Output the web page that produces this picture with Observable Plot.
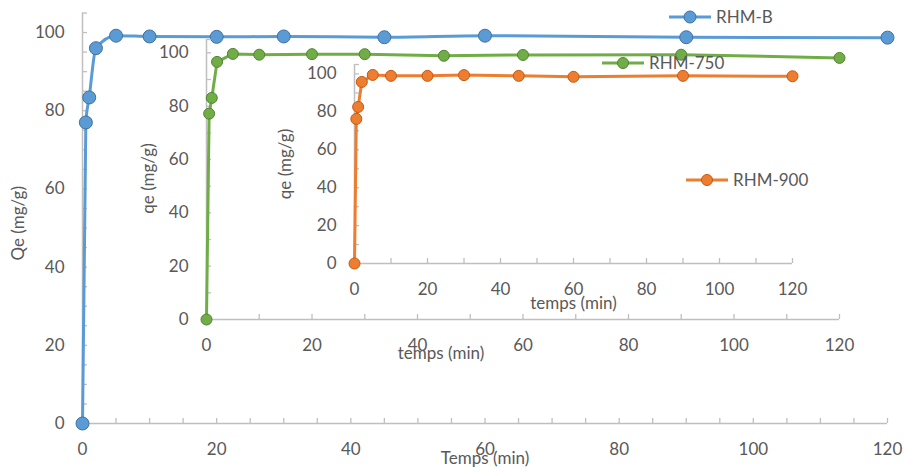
<!DOCTYPE html>
<html>
<head>
<meta charset="utf-8">
<script src="https://cdn.jsdelivr.net/npm/d3@7"></script>
<script src="https://cdn.jsdelivr.net/npm/@observablehq/plot@0.6"></script>
<style>
  html, body { margin: 0; padding: 0; background: #ffffff; }
  #chart { position: relative; width: 904px; height: 468px; overflow: hidden; font-family: Lato, "Open Sans", sans-serif; }
  #chart svg.plt { position: absolute; left: 0; top: 0; }
  .legend { position: absolute; display: flex; align-items: center; height: 20px; font-family: Lato, sans-serif; font-size: 17px; color: #595959; }
  .legend span { margin-left: 5px; line-height: 20px; }
</style>
</head>
<body>
<div id="chart"></div>
<script>
// ---- data ----
const times = [0, 0.5, 1, 2, 5, 10, 20, 30, 45, 60, 90, 120];
const qeB   = [0, 77.0, 83.4, 96.0, 99.2, 99.0, 98.9, 99.0, 98.8, 99.2, 98.8, 98.7];
const qe750 = [0, 77.2, 83.1, 96.6, 99.6, 99.3, 99.5, 99.5, 98.9, 99.2, 99.3, 98.1];
const qe900 = [0, 76.3, 82.6, 95.8, 99.5, 99.0, 99.0, 99.4, 99.0, 98.5, 99.0, 98.8];
const seriesNames = ["RHM-B", "RHM-750", "RHM-900"];
const xTickLabels = [0, 20, 40, 60, 80, 100, 120];
const yTickLabels = [0, 20, 40, 60, 80, 100];
const xMinorMain = d3.range(0, 121, 5);
const yMinorMain = d3.range(0, 106, 5);
const xMinorInset = d3.range(0, 121, 10);
const yMinorInset = d3.range(0, 101, 10).concat([105]);
const xDomain = [0, 120];
const yDomain = [0, 105];

const AXIS = "#BFBFBF";
const TEXT = "#595959";
const FONT = "Lato, 'Open Sans', sans-serif";

function makePlot(cfg) {
  const data = times.map((t, i) => ({t, q: cfg.values[i]}));
  const svg = Plot.plot({
    width: 904,
    height: 468,
    marginLeft: cfg.m[0], marginRight: cfg.m[1], marginTop: cfg.m[2], marginBottom: cfg.m[3],
    style: {background: "transparent", color: TEXT, fontFamily: FONT, fontSize: "17px", overflow: "visible"},
    x: {domain: xDomain, label: null},
    y: {domain: yDomain, label: null},
    marks: [
      Plot.ruleY([0], {stroke: AXIS, strokeWidth: 1.5}),
      Plot.ruleX([0], {stroke: AXIS, strokeWidth: 1.5}),
      Plot.axisX({ticks: cfg.xMinor, tickSize: 5, dy: -5, tickFormat: () => "", stroke: AXIS, strokeWidth: 1.3, label: null}),
      Plot.axisY({ticks: cfg.yMinor, tickSize: 5, dx: 5, tickFormat: () => "", stroke: AXIS, strokeWidth: 1.3, label: null}),
      Plot.axisX({ticks: xTickLabels, tickSize: 0, tickPadding: 19, fontSize: 17, fill: TEXT, label: null}),
      Plot.axisY({ticks: yTickLabels, tickSize: 0, tickPadding: 18, fontSize: 17, fill: TEXT, label: null}),
      Plot.text([cfg.yTitle], {text: d => d, frameAnchor: "left", rotate: -90, dx: cfg.yT[0], dy: cfg.yT[1], textAnchor: "middle", lineAnchor: "middle", fontSize: 17, fill: TEXT}),
      Plot.text([cfg.xTitle], {text: d => d, frameAnchor: "bottom", dx: cfg.xT[0], dy: cfg.xT[1], textAnchor: "middle", lineAnchor: "middle", fontSize: 17, fill: TEXT}),
      Plot.line(data, {x: "t", y: "q", stroke: cfg.color, strokeWidth: 3, curve: cfg.curve}),
      Plot.dot(data, {x: "t", y: "q", r: cfg.r, fill: cfg.color, stroke: cfg.edge, strokeWidth: 1})
    ]
  });
  svg.classList.add("plt");
  return svg;
}

const chart = document.getElementById("chart");
const cfgs = [
  {values: qeB, color: "#5B9BD5", edge: "#41719C", r: 6.5, curve: "monotone-x",
   m: [82, 17, 12.5, 45], xMinor: xMinorMain, yMinor: yMinorMain,
   yTitle: "Qe (mg/g)", yT: [-64, 5], xTitle: "Temps (min)", xT: [0, 35],
   legend: {left: 669, top: 7, r: 6}},
  {values: qe750, color: "#70AD47", edge: "#548235", r: 5.5, curve: "linear",
   m: [206, 65, 39, 149], xMinor: xMinorInset, yMinor: yMinorInset,
   yTitle: "qe (mg/g)", yT: [-58, -1], xTitle: "temps (min)", xT: [-82, 34],
   legend: {left: 602, top: 53, r: 5.5}},
  {values: qe900, color: "#ED7D31", edge: "#C55A11", r: 5.5, curve: "linear",
   m: [354, 112, 64, 205], xMinor: xMinorInset, yMinor: yMinorInset,
   yTitle: "qe (mg/g)", yT: [-69, 0], xTitle: "temps (min)", xT: [0, 40],
   legend: {left: 686, top: 170, r: 5.5}}
];

cfgs.forEach((cfg, i) => {
  chart.appendChild(makePlot(cfg));
  const lg = document.createElement("div");
  lg.className = "legend";
  lg.style.left = cfg.legend.left + "px";
  lg.style.top = cfg.legend.top + "px";
  lg.innerHTML = `<svg width="42" height="20"><line x1="0" y1="10" x2="42" y2="10" stroke="${cfg.color}" stroke-width="3"/><circle cx="21" cy="10" r="${cfg.legend.r}" fill="${cfg.color}" stroke="${cfg.edge}" stroke-width="1"/></svg><span>${seriesNames[i]}</span>`;
  chart.appendChild(lg);
});
</script>
</body>
</html>
